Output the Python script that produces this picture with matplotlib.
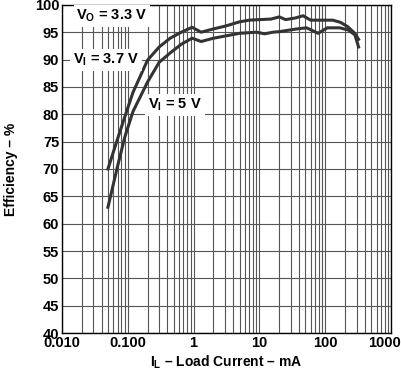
import matplotlib
matplotlib.use('Agg')
import matplotlib.pyplot as plt
import matplotlib.transforms as mtransforms
from matplotlib.ticker import LogLocator, FixedLocator, NullFormatter

plt.rcParams['font.family'] = ['Liberation Sans', 'DejaVu Sans']
plt.rcParams['font.weight'] = 'bold'
plt.rcParams['mathtext.fontset'] = 'custom'
plt.rcParams['mathtext.rm'] = 'Liberation Sans:bold'
plt.rcParams['mathtext.it'] = 'Liberation Sans:bold'
plt.rcParams['mathtext.bf'] = 'Liberation Sans:bold'

# VI = 3.7 V curve (upper)
i_37 = [0.05, 0.07, 0.09, 0.12, 0.2, 0.3, 0.44, 0.65, 0.95, 1.3, 2, 3, 5, 7, 10,
        15, 20, 25, 35, 46, 60, 90, 130, 170, 220, 280, 320]
eff_37 = [70.0, 75.5, 79.5, 84.0, 89.9, 92.3, 93.9, 95.0, 95.9, 95.0, 95.6, 96.1, 96.9, 97.2, 97.3,
          97.4, 97.8, 97.3, 97.6, 98.0, 97.2, 97.2, 97.2, 96.8, 96.0, 94.8, 93.7]

# VI = 5 V curve (lower)
i_5 = [0.05, 0.07, 0.09, 0.12, 0.2, 0.3, 0.44, 0.65, 0.95, 1.3, 2, 5, 9, 12, 16, 20,
       37, 52, 78, 107, 166, 224, 282, 320]
eff_5 = [63.0, 70.5, 75.8, 80.5, 85.9, 89.5, 91.2, 92.8, 93.9, 93.3, 93.9, 94.8, 95.0, 94.7, 95.0, 95.1,
         95.6, 95.8, 94.8, 95.8, 95.8, 95.4, 94.5, 92.3]

xticks = [0.01, 0.1, 1, 10, 100, 1000]
xtick_labels = ['0.010', '0.100', '1', '10', '100', '1000']
yticks = list(range(40, 101, 5))

fig = plt.figure(figsize=(4.02, 3.73), dpi=100)
ax = fig.add_axes([0.154, 0.107, 0.819, 0.880])

ax.set_xscale('log')
ax.set_xlim(0.01, 1000)
ax.set_ylim(40, 100)

ax.xaxis.set_major_locator(FixedLocator(xticks))
ax.set_xticklabels(xtick_labels)
ax.xaxis.set_minor_locator(LogLocator(base=10, subs=range(2, 10)))
ax.xaxis.set_minor_formatter(NullFormatter())
ax.set_yticks(yticks)

ax.grid(True, which='both', axis='x', color='#555555', lw=0.8)
ax.grid(True, which='major', axis='y', color='#555555', lw=0.8)
ax.set_axisbelow(True)
ax.tick_params(which='both', length=0, labelsize=10.5, pad=2)
for lab in ax.get_xticklabels() + ax.get_yticklabels():
    lab.set_fontweight('bold')
for s in ax.spines.values():
    s.set_color('black')
    s.set_linewidth(1)

# keep "1000" inside the figure, right edge flush with the border
last = ax.get_xticklabels()[-1]
last.set_horizontalalignment('right')
last.set_transform(last.get_transform() +
                   mtransforms.ScaledTranslation(10 / 100, 0, fig.dpi_scale_trans))

ax.plot(i_37, eff_37, color='#333333', lw=2.2, zorder=3)
ax.plot(i_5, eff_5, color='#333333', lw=2.2, zorder=3)

box = dict(facecolor='white', edgecolor='none', pad=2)
ax.text(0.0575, 97.95, r'V$_{O}$ = 3.3 V', ha='center', va='center', fontsize=10.5,
        fontweight='bold', bbox=box, zorder=4)
ax.text(0.0466, 89.9, r'V$_{I}$ = 3.7 V', ha='center', va='center', fontsize=10.5,
        fontweight='bold', bbox=box, zorder=4)
ax.text(0.52, 81.7, r'V$_{I}$ = 5 V', ha='center', va='center', fontsize=10.5,
        fontweight='bold', bbox=box, zorder=4)

ax.set_xlabel(r'I$_{L}$ – Load Current – mA', fontsize=10, fontweight='bold', labelpad=3)
ax.set_ylabel('Efficiency – %', fontsize=10, fontweight='bold', labelpad=12)

fig.savefig('out.png', dpi=100)
